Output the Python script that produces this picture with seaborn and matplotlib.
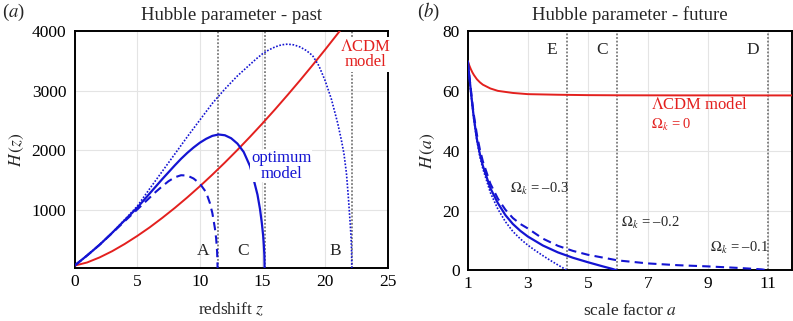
import matplotlib
matplotlib.use("Agg")
import matplotlib.pyplot as plt
import numpy as np
import pandas as pd
import seaborn as sns

# ---------------- data : panel (a) Hubble parameter - past ----------------
z_lcdm = [0, 1, 2, 3, 4, 5, 6, 7, 8, 9, 10, 11, 12, 13, 14, 15, 16, 17, 18, 19, 20, 21, 22]
H_lcdm = [70, 123, 208, 312, 433, 567, 712, 870, 1037, 1214, 1400, 1595, 1798, 2009,
          2228, 2454, 2688, 2929, 3176, 3430, 3690, 3957, 4230]

z_opt = [0, 1, 2, 3, 4, 5, 6, 7, 8, 8.5, 9, 9.5, 10, 10.5, 11, 11.5, 12, 12.5, 13,
         13.5, 14, 14.3, 14.6, 14.8, 14.95, 15.05, 15.1, 15.15, 15.17]
H_opt = [70, 240, 420, 620, 830, 1040, 1280, 1520, 1750, 1860, 1960, 2050, 2130, 2195,
         2245, 2268, 2255, 2205, 2115, 1975, 1740, 1510, 1260, 1020, 780, 580, 440, 250, 0]

z_dash = [0, 1, 2, 3, 4, 5, 5.5, 6, 6.5, 7, 7.5, 8, 8.5, 9, 9.5, 10, 10.5, 10.8,
          11.0, 11.2, 11.3, 11.38, 11.42]
H_dash = [70, 240, 420, 615, 815, 1010, 1110, 1210, 1310, 1400, 1485, 1550, 1585, 1580,
          1530, 1445, 1300, 1120, 950, 700, 530, 300, 0]

z_dot = [0, 1, 2, 3, 4, 5, 6, 7, 8, 9, 10, 11, 12, 13, 14, 14.5, 15, 15.5, 16, 16.5,
         17, 17.5, 18, 18.5, 19, 19.5, 20, 20.5, 21, 21.3, 21.5, 21.7, 21.86, 22.0,
         22.07, 22.11, 22.13]
H_dot = [70, 240, 420, 620, 840, 1064, 1360, 1650, 1940, 2230, 2510, 2790, 3030, 3250,
         3440, 3535, 3620, 3685, 3735, 3770, 3782, 3770, 3735, 3675, 3590, 3420, 3170,
         2860, 2460, 2170, 1950, 1620, 1200, 780, 540, 320, 0]

past_marks = [11.42, 15.17, 22.13]
past_letters = ["A", "C", "B"]

# ---------------- data : panel (b) Hubble parameter - future ----------------
a_lcdm = [1, 1.05, 1.1, 1.15, 1.2, 1.3, 1.4, 1.5, 1.75, 2, 2.5, 3, 4, 5, 6, 8, 10, 12]
Ha_lcdm = [70, 68.55, 67.34, 66.3, 65.43, 64.0, 62.97, 62.17, 60.9, 60.1, 59.4, 59.0,
           58.8, 58.67, 58.62, 58.59, 58.58, 58.57]

a_k2 = [1, 1.05, 1.1, 1.15, 1.2, 1.3, 1.4, 1.5, 1.75, 2, 2.25, 2.5, 2.75, 3, 3.5, 4,
        4.5, 5, 5.5, 5.8, 5.96]
Ha_k2 = [70, 64.8, 60, 55.3, 51, 44, 39, 35, 27.5, 22.5, 18.5, 15.5, 13.2, 11.3, 8.3,
         6.0, 4.2, 2.7, 1.3, 0.5, 0]

a_k1 = [1, 1.05, 1.1, 1.15, 1.2, 1.3, 1.4, 1.5, 1.75, 2, 2.25, 2.5, 2.75, 3, 3.5, 4,
        4.5, 5, 6, 7, 8, 9, 10, 10.5, 10.8, 11.0]
Ha_k1 = [70, 65.0, 60.5, 56.0, 52, 45.5, 40.5, 36.5, 29, 24, 20.3, 17.5, 15.5, 14, 10.6,
         8.2, 6.5, 5.2, 3.3, 2.3, 1.7, 1.3, 0.8, 0.5, 0.3, 0]

a_k3 = [1, 1.05, 1.1, 1.15, 1.2, 1.3, 1.4, 1.5, 1.75, 2, 2.25, 2.5, 2.75, 3, 3.25,
        3.5, 3.75, 4, 4.15, 4.3]
Ha_k3 = [70, 64.6, 59.5, 54.8, 50.5, 43.5, 38, 34, 26, 20.5, 16.3, 13, 10.5, 8.4, 6.6,
         4.9, 3.3, 1.8, 0.9, 0]

future_marks = [4.3, 5.96, 11.0]
future_letters = ["E", "C", "D"]

# ---------------- style ----------------
sns.set_theme(style="white")
plt.rcParams["font.family"] = ["Liberation Serif", "DejaVu Serif"]
plt.rcParams["mathtext.fontset"] = "stix"
plt.rcParams["axes.unicode_minus"] = True

RED = "#e3201e"
BLUE = "#1414d2"
GRID = "#e4e4e4"
VCOL = "#7a7a7a"
FS = 12.5
TFS = 13.5
LAM = "$\\mathit{\\Lambda}$"
OMK = "$\\mathit{\\Omega}_k$"

fig = plt.figure(figsize=(7.93, 3.21), dpi=100)
ax1 = fig.add_axes([0.094, 0.165, 0.395, 0.738])
ax2 = fig.add_axes([0.590, 0.158, 0.4086, 0.744])


def style_axes(ax):
    ax.grid(True, color=GRID, lw=0.8)
    ax.set_axisbelow(True)
    for s in ax.spines.values():
        s.set_color("black")
        s.set_linewidth(1.4)
    ax.tick_params(direction="in", length=3, width=0.8, labelsize=FS, pad=4,
                   colors="black")
    ax.tick_params(axis="y", pad=6)


# ---------------- panel (a) ----------------
style_axes(ax1)
for zv in past_marks:
    ax1.axvline(zv, color=VCOL, ls=(0, (1, 1)), lw=1.3, zorder=1)

sns.lineplot(x=z_lcdm, y=H_lcdm, ax=ax1, color=RED, lw=1.4, zorder=3)
sns.lineplot(x=z_opt, y=H_opt, ax=ax1, color=BLUE, lw=1.6, zorder=3)
sns.lineplot(x=z_dash, y=H_dash, ax=ax1, color=BLUE, lw=1.5, zorder=3)
ax1.lines[-1].set_dashes((4, 2.5))
sns.lineplot(x=z_dot, y=H_dot, ax=ax1, color=BLUE, lw=1.2, zorder=3)
ax1.lines[-1].set_linestyle((0, (1, 1)))

ax1.set_xlim(0, 25)
ax1.set_ylim(30, 4000)
ax1.set_xticks([0, 5, 10, 15, 20, 25])
ax1.set_yticks([1000, 2000, 3000, 4000])
ax1.set_xlabel("redshift $z$", fontsize=FS, labelpad=8)
ax1.set_ylabel("$H\\,(z)$", fontsize=FS, labelpad=4)
ax1.set_title("Hubble parameter - past", fontsize=TFS, pad=8)

for zv, lab, dz in zip(past_marks, past_letters, [-1.2, -1.7, -1.3]):
    ax1.text(zv + dz, 310, lab, fontsize=FS, ha="center", va="center", zorder=4)

ax1.text(23.2, 3610, LAM + "CDM\nmodel", color=RED, fontsize=FS - 0.5,
         ha="center", va="center", linespacing=0.95, zorder=5,
         bbox=dict(fc="white", ec="none", pad=1.5))
ax1.text(16.5, 1740, "optimum\nmodel", color=BLUE, fontsize=FS - 0.5,
         ha="center", va="center", linespacing=0.95, zorder=5,
         bbox=dict(fc="white", ec="none", pad=0.5))

# ---------------- panel (b) ----------------
style_axes(ax2)
for av in future_marks:
    ax2.axvline(av, color=VCOL, ls=(0, (1, 1)), lw=1.3, zorder=1)

sns.lineplot(x=a_lcdm, y=Ha_lcdm, ax=ax2, color=RED, lw=1.4, zorder=3)
sns.lineplot(x=a_k2, y=Ha_k2, ax=ax2, color=BLUE, lw=1.6, zorder=3)
sns.lineplot(x=a_k1, y=Ha_k1, ax=ax2, color=BLUE, lw=1.5, zorder=3)
ax2.lines[-1].set_dashes((4, 2.5))
sns.lineplot(x=a_k3, y=Ha_k3, ax=ax2, color=BLUE, lw=1.2, zorder=3)
ax2.lines[-1].set_linestyle((0, (1, 1)))

ax2.set_xlim(1, 11.8)
ax2.set_ylim(0, 80)
ax2.set_xticks([1, 3, 5, 7, 9, 11])
ax2.set_yticks([0, 20, 40, 60, 80])
ax2.set_xlabel("scale factor $a$", fontsize=FS, labelpad=8)
ax2.set_ylabel("$H\\,(a)$", fontsize=FS, labelpad=4)
ax2.set_title("Hubble parameter - future", fontsize=TFS, pad=8)

for av, lab in zip(future_marks, future_letters):
    ax2.text(av - 0.5, 73.8, lab, fontsize=FS, ha="center", va="center", zorder=4)

ax2.text(7.12, 55.2, LAM + "CDM model", color=RED, fontsize=FS - 0.5,
         ha="left", va="center")
ax2.text(7.12, 48.8, OMK + " = 0", color=RED, fontsize=FS - 2,
         ha="left", va="center")
ax2.text(2.4, 27.2, OMK + " = \u20130.3", fontsize=FS - 2, ha="left", va="center")
ax2.text(6.12, 15.8, OMK + " = \u20130.2", fontsize=FS - 2, ha="left", va="center")
ax2.text(9.07, 7.4, OMK + " = \u20130.1", fontsize=FS - 2, ha="left", va="center")

fig.text(0.003, 0.962, "($a$)", fontsize=TFS, ha="left", va="center")
fig.text(0.526, 0.962, "($b$)", fontsize=TFS, ha="left", va="center")

fig.savefig("out.png", dpi=100)
